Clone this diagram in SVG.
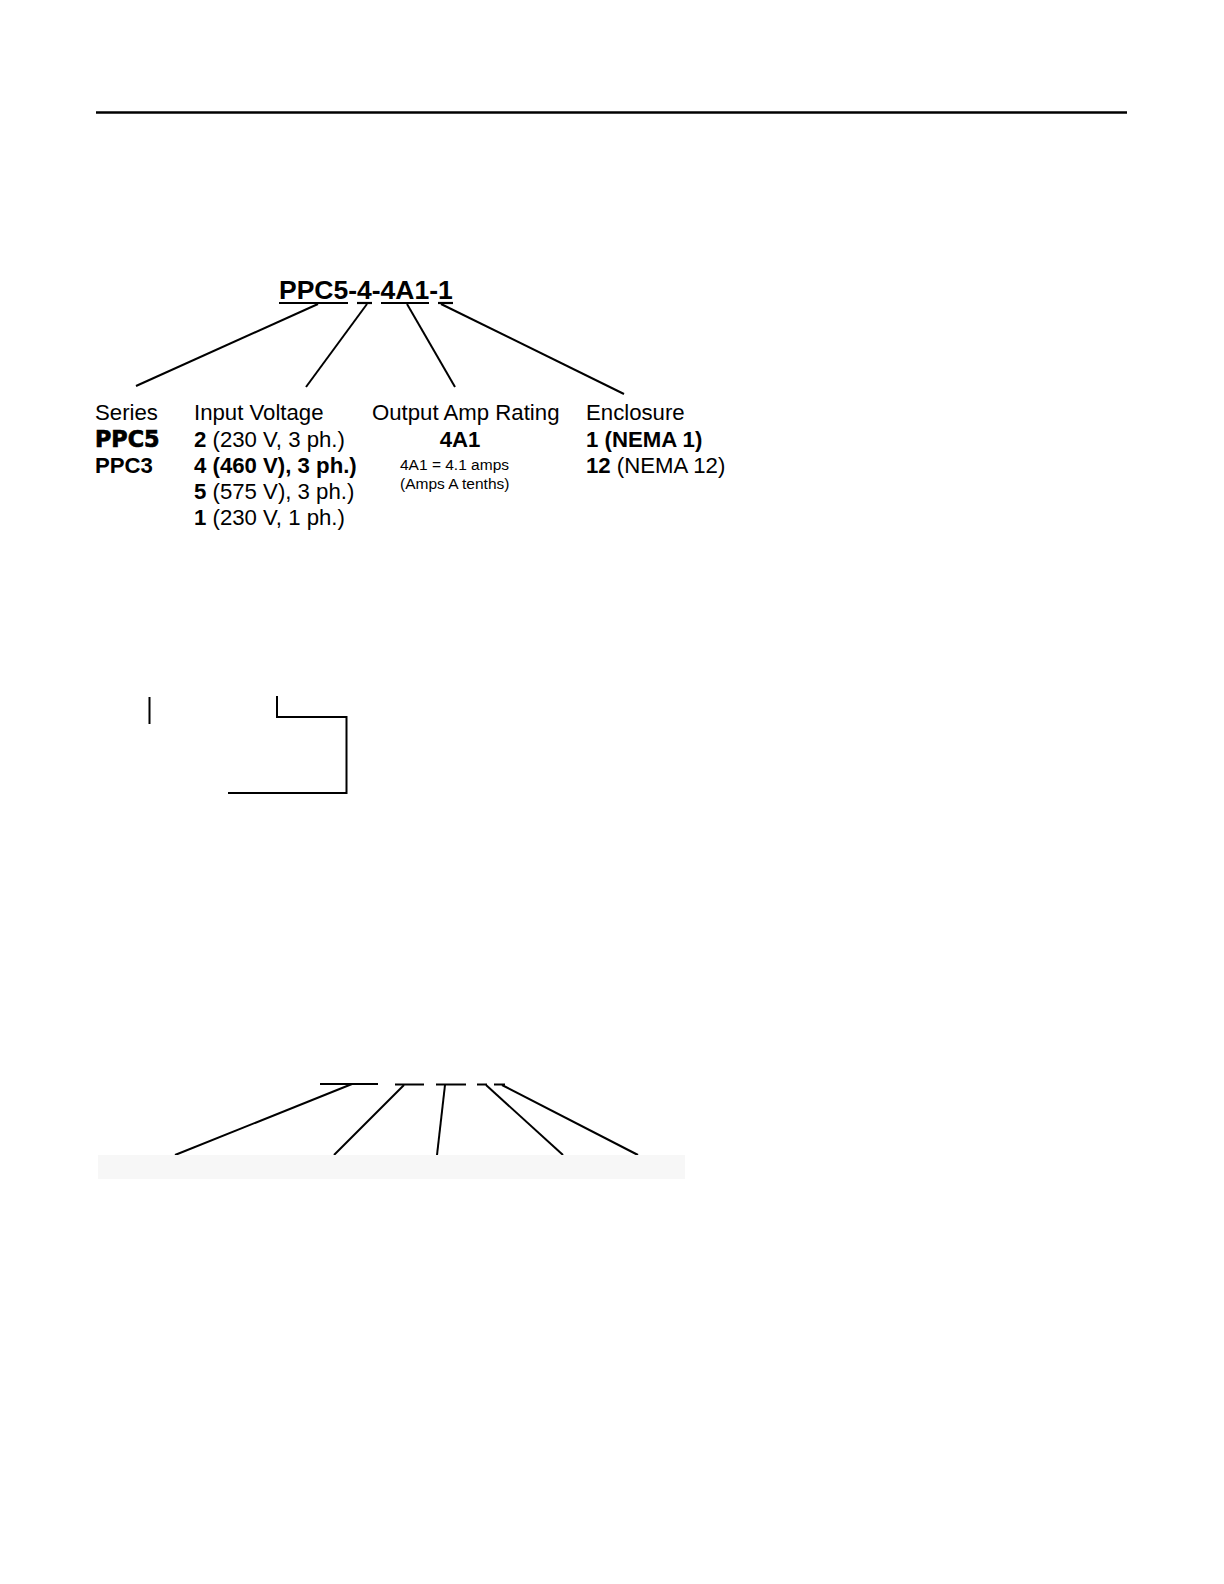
<svg xmlns="http://www.w3.org/2000/svg" width="1224" height="1584" viewBox="0 0 1224 1584">
<style>
.t{font-family:"Liberation Sans",Arial,sans-serif;font-size:22.2px;fill:#000}
.b{font-weight:bold}
.blk{font-family:"DejaVu Sans","Liberation Sans",sans-serif;font-weight:bold;stroke:#000;stroke-width:0.7}
.s{font-size:15.5px}
.ln{stroke:#000;stroke-width:2;fill:none}
.ul{stroke:#000;stroke-width:2.2}
</style>
<rect width="1224" height="1584" fill="#fff"/>
<line x1="96" y1="112.5" x2="1127" y2="112.5" stroke="#000" stroke-width="2.4"/>
<g id="model-code">
<text class="t b" x="279" y="299" style="font-size:26.5px">PPC5-4-4A1-1</text>
<line class="ul" x1="279" y1="303" x2="348" y2="303"/>
<line class="ul" x1="357" y1="303" x2="372" y2="303"/>
<line class="ul" x1="381" y1="303" x2="429" y2="303"/>
<line class="ul" x1="438" y1="303" x2="453" y2="303"/>
</g>
<g id="connectors">
<line class="ln" x1="318" y1="304" x2="136" y2="386"/>
<line class="ln" x1="367" y1="304" x2="306" y2="387"/>
<line class="ln" x1="407" y1="304" x2="455" y2="387"/>
<line class="ln" x1="441" y1="304" x2="624" y2="394"/>
</g>
<g id="series">
<text class="t" x="95" y="420">Series</text>
<text class="t blk" x="95" y="446.5" style="font-size:22.3px">PPC5</text>
<text class="t b" x="95" y="473">PPC3</text>
</g>
<g id="input-voltage">
<text class="t" x="194" y="420">Input Voltage</text>
<text class="t" x="194" y="446.5"><tspan class="b">2</tspan> (230 V, 3 ph.)</text>
<text class="t b" x="194" y="473">4 (460 V), 3 ph.)</text>
<text class="t" x="194" y="499"><tspan class="b">5</tspan> (575 V), 3 ph.)</text>
<text class="t" x="194" y="525"><tspan class="b">1</tspan> (230 V, 1 ph.)</text>
</g>
<g id="output-amp">
<text class="t" x="372" y="420">Output Amp Rating</text>
<text class="t b" x="460" y="446.5" text-anchor="middle">4A1</text>
<text class="t s" x="400" y="470">4A1 = 4.1 amps</text>
<text class="t s" x="400" y="489">(Amps A tenths)</text>
</g>
<g id="enclosure">
<text class="t" x="586" y="420">Enclosure</text>
<text class="t b" x="586" y="446.5">1 (NEMA 1)</text>
<text class="t" x="586" y="473"><tspan class="b">12</tspan> (NEMA 12)</text>
</g>
<g id="bracket-lines">
<line class="ln" x1="149.5" y1="697" x2="149.5" y2="724" stroke-width="2.4"/>
<polyline class="ln" points="277,696 277,717 346.5,717 346.5,793 228,793" stroke-width="2.4"/>
</g>
<g id="lower-connectors">
<line class="ln" x1="320" y1="1084" x2="378" y2="1084" stroke-width="2.6"/>
<line class="ln" x1="395" y1="1084.5" x2="424" y2="1084.5"/>
<line class="ln" x1="436" y1="1084.5" x2="466" y2="1084.5"/>
<line class="ln" x1="477" y1="1084.5" x2="487" y2="1084.5"/>
<line class="ln" x1="494" y1="1084.5" x2="505" y2="1084.5"/>
<line class="ln" x1="352" y1="1084" x2="175" y2="1155"/>
<line class="ln" x1="404" y1="1085" x2="334" y2="1155"/>
<line class="ln" x1="445" y1="1085" x2="437" y2="1155"/>
<line class="ln" x1="486" y1="1085" x2="563" y2="1155"/>
<line class="ln" x1="502" y1="1085" x2="638" y2="1155"/>
</g>
<rect x="98" y="1155" width="587" height="24" fill="#f7f7f7"/>
</svg>
